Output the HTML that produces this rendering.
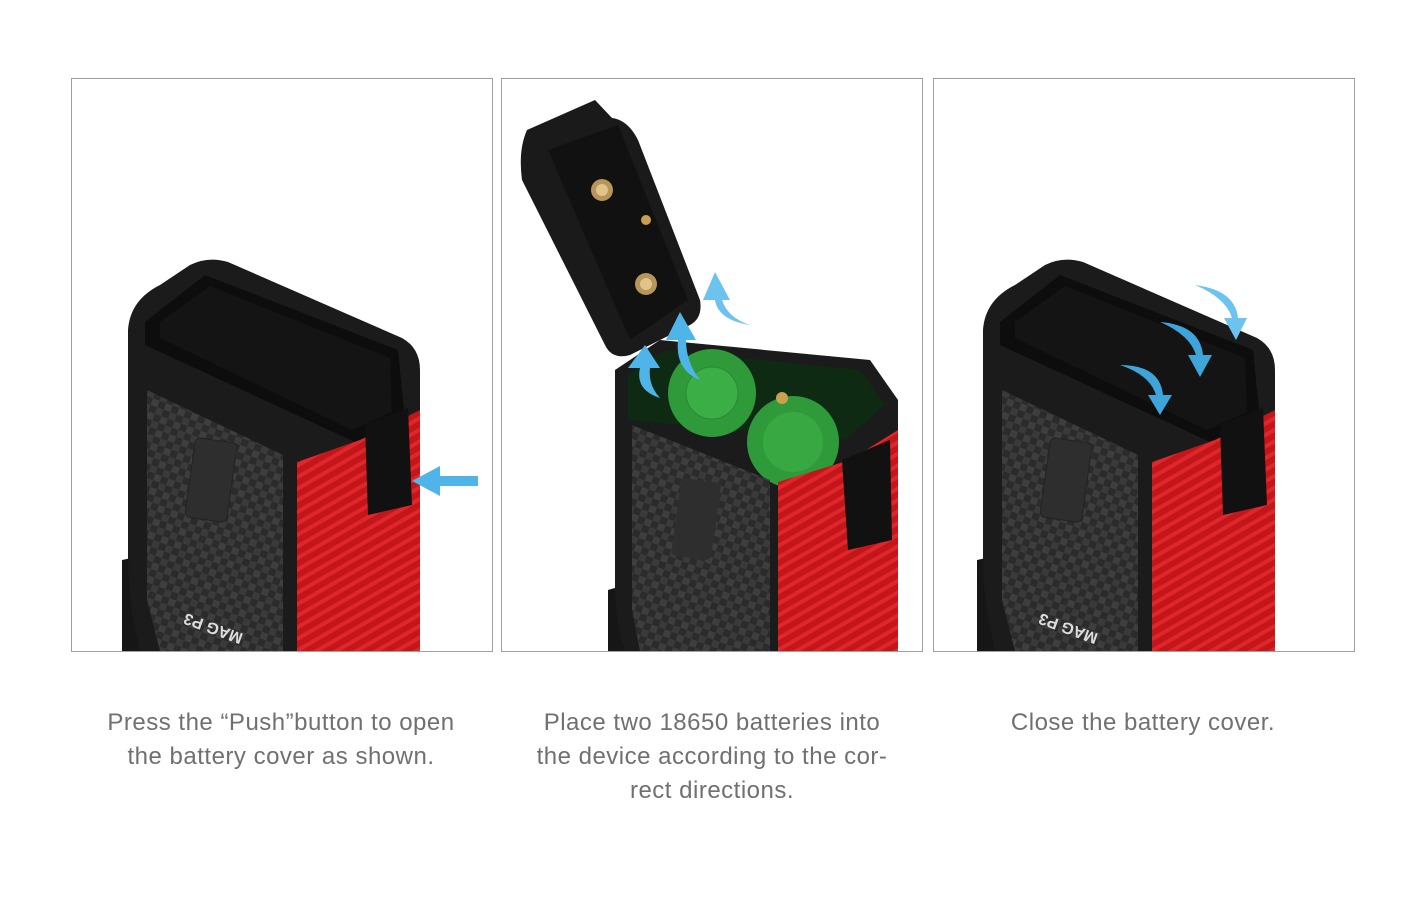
<!DOCTYPE html>
<html><head><meta charset="utf-8">
<style>
html,body{margin:0;padding:0;background:#fff;}
body{width:1418px;height:911px;position:relative;overflow:hidden;font-family:"Liberation Sans",sans-serif;}
.panel{position:absolute;top:78px;width:422px;height:574px;border:1px solid #a0a0a0;box-sizing:border-box;}
.cap{position:absolute;top:706px;width:420px;text-align:center;color:#707070;font-size:24px;line-height:34px;letter-spacing:0.5px;}
svg{position:absolute;left:0;top:0;}
</style></head><body>
<div class="panel" style="left:71px"></div>
<div class="panel" style="left:501px"></div>
<div class="panel" style="left:933px"></div>
<svg width="1418" height="911" viewBox="0 0 1418 911">
<defs>
<pattern id="carbon" width="14" height="14" patternUnits="userSpaceOnUse" patternTransform="rotate(20)">
<rect width="14" height="14" fill="#2b2b2b"/><rect width="7" height="7" fill="#3e3e3e"/><rect x="7" y="7" width="7" height="7" fill="#3a3a3a"/>
</pattern>
<pattern id="red" width="10" height="10" patternUnits="userSpaceOnUse" patternTransform="rotate(-30)">
<rect width="10" height="10" fill="#c2161a"/><rect width="10" height="4" fill="#e0262a"/>
</pattern>
<clipPath id="c1"><rect x="72" y="79" width="420" height="572"/></clipPath>
<clipPath id="c2"><rect x="502" y="79" width="420" height="572"/></clipPath>
<clipPath id="c3"><rect x="934" y="79" width="420" height="572"/></clipPath>
<g id="dev">
<path d="M122,560 L145,555 L150,651 L122,651 Z" fill="#161616"/>
<path d="M128,330 Q130,300 160,285 L190,265 Q208,256 228,262 L402,338 Q420,348 420,370 L420,651 L140,651 Q128,600 128,560 Z" fill="#1b1b1b"/>
<path d="M145,322 L205,275 L398,350 L405,420 L355,442 L145,345 Z" fill="#0d0d0d"/>
<path d="M160,322 L210,286 L390,358 L392,412 L352,430 L160,338 Z" fill="#141414"/>
<path d="M147,390 L283,455 L283,651 L160,651 L147,600 Z" fill="url(#carbon)"/>
<rect x="190" y="440" width="42" height="80" rx="5" fill="#2e2e2e" stroke="#222" transform="rotate(8 211 480)"/>
<path d="M297,462 L360,440 L420,410 L420,651 L297,651 Z" fill="url(#red)"/>
<path d="M365,425 L408,408 L412,505 L368,515 Z" fill="#111"/>
<text x="0" y="0" fill="#ddd" font-size="16" font-weight="bold" transform="translate(178,610) rotate(20) scale(-1,-1) translate(-70,0)">MAG P3</text>
</g>
</defs>
<g clip-path="url(#c1)">
<use href="#dev"/>
<path d="M478,476 L440,476 L440,466 L412,481 L440,496 L440,486 L478,486 Z" fill="#4fb4e8"/>
</g>
<g clip-path="url(#c3)">
<use href="#dev" transform="translate(855,0)"/>
<path d="M1120,365 Q1160,365 1163,395 L1172,395 L1160,415 L1148,395 L1156,395 Q1150,375 1120,365 Z" fill="#3fa4da"/>
<path d="M1160,322 Q1200,325 1203,355 L1212,355 L1200,377 L1188,355 L1196,355 Q1190,335 1160,322 Z" fill="#3fa4da"/>
<path d="M1195,285 Q1235,290 1238,318 L1247,318 L1236,340 L1224,318 L1232,318 Q1226,298 1195,285 Z" fill="#6cc4ee"/>
</g>
<g clip-path="url(#c2)">
<path d="M608,590 L625,585 L630,651 L608,651 Z" fill="#161616"/>
<path d="M615,370 L660,340 L870,360 L898,400 L898,651 L625,651 Q615,620 615,590 Z" fill="#1b1b1b"/>
<path d="M628,375 L665,350 L860,370 L885,405 L845,440 L628,420 Z" fill="#0e2a12"/>
<circle cx="712" cy="393" r="44" fill="#2f9a3a"/><circle cx="712" cy="393" r="26" fill="#3cae46" stroke="#2a8a33"/>
<circle cx="793" cy="442" r="46" fill="#2f9a3a"/><circle cx="793" cy="442" r="30" fill="#38a842"/>
<circle cx="782" cy="398" r="6" fill="#c8a050"/>
<path d="M632,425 L770,480 L770,651 L640,651 L632,610 Z" fill="url(#carbon)"/>
<rect x="676" y="480" width="40" height="78" rx="5" fill="#2e2e2e" transform="rotate(8 696 520)"/>
<path d="M778,482 L850,460 L898,430 L898,651 L778,651 Z" fill="url(#red)"/>
<path d="M842,460 L890,440 L892,540 L848,550 Z" fill="#111"/>
<path d="M527,130 L595,100 L612,118 Q628,120 638,140 L700,300 Q703,318 690,325 L630,355 Q612,360 605,345 L522,180 Q518,150 527,130 Z" fill="#1a1a1a"/>
<path d="M548,150 L618,125 L688,300 L630,340 Z" fill="#111"/>
<circle cx="602" cy="190" r="11" fill="#b8955a"/><circle cx="602" cy="190" r="6" fill="#e0c48a"/>
<circle cx="646" cy="284" r="11" fill="#b8955a"/><circle cx="646" cy="284" r="6" fill="#e0c48a"/>
<circle cx="646" cy="220" r="5" fill="#c8a050"/>
<path d="M660,398 Q635,390 640,368 L628,368 L645,345 L660,368 L650,368 Q648,385 660,398 Z" fill="#4fb4e8"/>
<path d="M700,380 Q675,370 678,340 L666,340 L680,312 L696,340 L686,340 Q686,362 700,380 Z" fill="#4fb4e8"/>
<path d="M750,325 Q718,320 715,300 L703,300 L715,272 L730,300 L722,300 Q728,318 750,325 Z" fill="#6cc4ee"/>
</g>
</svg>
<div class="cap" style="left:71px">Press the “Push”button to open<br>the battery cover as shown.</div>
<div class="cap" style="left:502px">Place two 18650 batteries into<br>the device according to the cor-<br>rect directions.</div>
<div class="cap" style="left:933px">Close the battery cover.</div>
</body></html>
